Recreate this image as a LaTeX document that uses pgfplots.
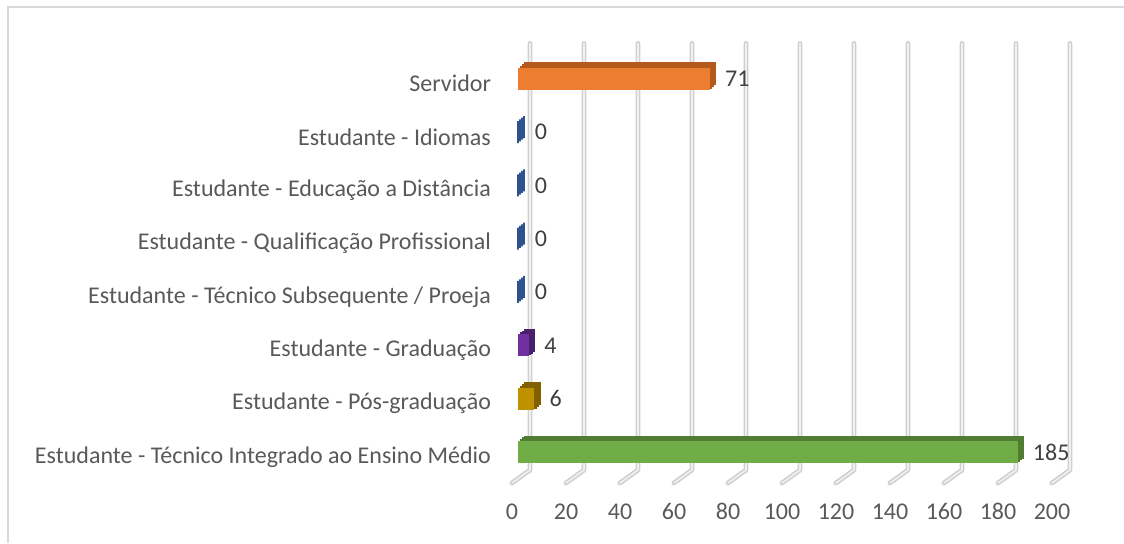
\documentclass[border=0pt]{standalone}
\usepackage{fontspec}
\setmainfont{Carlito}
\usepackage{pgfplots}
\pgfplotsset{compat=1.18}
\definecolor{txt}{HTML}{595959}
\definecolor{lbl}{HTML}{404040}
\definecolor{frame}{HTML}{D9D9D9}
\definecolor{gridout}{HTML}{CFCFCF}
\definecolor{gridin}{HTML}{F0F0F0}
\definecolor{orF}{HTML}{ED7D31}
\definecolor{orD}{HTML}{B45A1C}
\definecolor{blZ}{HTML}{2F528F}
\definecolor{puF}{HTML}{7030A0}
\definecolor{puD}{HTML}{4A1F6B}
\definecolor{goF}{HTML}{BF9000}
\definecolor{goD}{HTML}{806000}
\definecolor{grF}{HTML}{70AD47}
\definecolor{grD}{HTML}{507D32}

% depth of a bar: the front face swept back in three steps
\newcommand{\depth}[2]{%
  \addplot[fill=#1, draw=#1, line width=0.4pt, xshift=1pt, yshift=0.83pt] coordinates {#2};
  \addplot[fill=#1, draw=#1, line width=0.4pt, xshift=2pt, yshift=1.67pt] coordinates {#2};
  \addplot[fill=#1, draw=#1, line width=0.4pt, xshift=3pt, yshift=2.5pt] coordinates {#2};}

\begin{document}
\begin{tikzpicture}[font=\fontsize{12}{14}\selectfont]
\draw[frame, line width=1pt] (3.75pt,0) -- (3.75pt,268.25pt) -- (562pt,268.25pt);
\begin{axis}[at={(259pt,32.2pt)}, anchor=south west, scale only axis,
  width=270pt, height=213.3pt, xmin=0, xmax=200, ymin=-0.5, ymax=7.5,
  xbar, bar width=11pt, bar shift=0pt, set layers, clip=false,
  axis line style={draw=none}, major tick length=0pt,
  xtick={0,20,...,200}, ytick={0,...,7},
  yticklabels={Estudante - Técnico Integrado ao Ensino Médio, Estudante - Pós-graduação,
    Estudante - Graduação, Estudante - Técnico Subsequente / Proeja,
    Estudante - Qualificação Profissional, Estudante - Educação a Distância,
    Estudante - Idiomas, Servidor},
  tick label style={text=txt},
  xticklabel style={text height=7.8pt, text depth=0pt, yshift=-9.2pt, xshift=-3pt},
  yticklabel style={xshift=-10pt, yshift=-2.5pt},
  every node near coord/.append style={text=lbl, xshift=4.2pt},
  /pgf/number format/assume math mode=true]

\begin{pgfonlayer}{axis background}
\pgfplotsinvokeforeach{0,20,...,200}{
  \draw[gridout, line width=2.4pt, line cap=round, line join=round]
    (axis cs:#1,-0.5) ++(-3pt,-2.2pt) -- ++(9pt,6.5pt) -- ++(0pt,213.3pt);
  \draw[gridin, line width=0.8pt, line cap=round, line join=round]
    (axis cs:#1,-0.5) ++(-3pt,-2.2pt) -- ++(9pt,6.5pt) -- ++(0pt,213.3pt);
}
\end{pgfonlayer}

% Servidor
\depth{orD}{(71,7)}
\addplot[fill=orF, draw=none, nodes near coords] coordinates {(71,7)};
% zero categories: only the side face shows
\addplot[draw=blZ, fill=none, line width=1.2pt, nodes near coords,
  every node near coord/.append style={xshift=0.3pt}] coordinates {(0,6) (0,5) (0,4) (0,3)};
\addplot[draw=blZ, fill=none, line width=1.2pt, xshift=1pt, yshift=0.83pt] coordinates {(0,6) (0,5) (0,4) (0,3)};
\addplot[draw=blZ, fill=none, line width=1.2pt, xshift=2pt, yshift=1.67pt] coordinates {(0,6) (0,5) (0,4) (0,3)};
\addplot[draw=blZ, fill=none, line width=1.2pt, xshift=3pt, yshift=2.5pt] coordinates {(0,6) (0,5) (0,4) (0,3)};
% Graduacao
\depth{puD}{(4,2)}
\addplot[fill=puF, draw=none, nodes near coords] coordinates {(4,2)};
% Pos-graduacao
\depth{goD}{(6,1)}
\addplot[fill=goF, draw=none, nodes near coords] coordinates {(6,1)};
% Tecnico Integrado
\depth{grD}{(185,0)}
\addplot[fill=grF, draw=none, nodes near coords] coordinates {(185,0)};
\end{axis}
\pgfresetboundingbox
\useasboundingbox (0,0) rectangle (562pt,271.5pt);
\end{tikzpicture}
\end{document}
